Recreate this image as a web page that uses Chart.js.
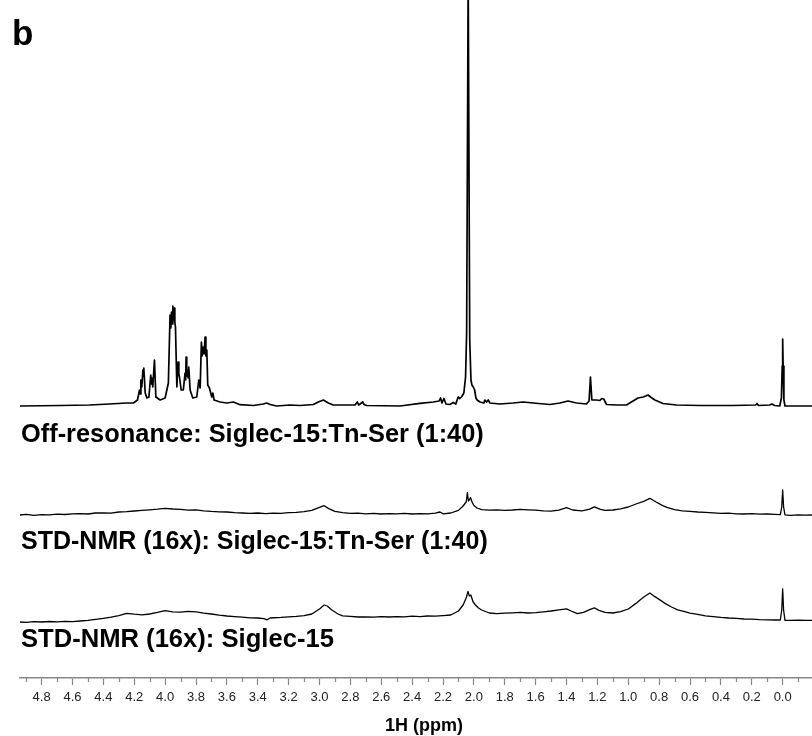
<!DOCTYPE html>
<html>
<head>
<meta charset="utf-8">
<script src="https://cdn.jsdelivr.net/npm/chart.js@4"></script>
<style>
  html, body { margin: 0; padding: 0; background: #fff; }
  canvas { display: block; }
</style>
</head>
<body>
<canvas id="nmr" width="812" height="736"></canvas>
<script>
// chemical shifts (ppm) and intensities, one pair of arrays per trace
const offPpm = [4.94, 4.68, 4.49, 4.36, 4.25, 4.205, 4.179, 4.166, 4.161, 4.157, 4.151, 4.144, 4.141, 4.138, 4.129, 4.118, 4.105,
  4.093, 4.089, 4.086, 4.080, 4.069, 4.060, 4.032, 4.000, 3.979, 3.968, 3.963, 3.959, 3.954, 3.950, 3.946, 3.942, 3.937, 3.933,
  3.924, 3.916, 3.911, 3.907, 3.896, 3.882, 3.871, 3.867, 3.864, 3.860, 3.856, 3.851, 3.847, 3.838, 3.821, 3.795, 3.782,
  3.773, 3.765, 3.760, 3.754, 3.748, 3.741, 3.736, 3.730, 3.724,
  3.713, 3.698, 3.691, 3.683, 3.644, 3.601, 3.558, 3.515, 3.428, 3.364, 3.342, 3.320, 3.277, 3.191, 3.126, 3.040,
  3.008, 2.975, 2.943, 2.911, 2.770, 2.755, 2.746, 2.720, 2.712, 2.694, 2.479, 2.349, 2.263, 2.225, 2.216, 2.207,
  2.194, 2.181, 2.155, 2.134, 2.117, 2.102, 2.091, 2.078, 2.065, 2.054, 2.047, 2.037, 2.027, 2.019, 2.013, 2.004,
  1.995, 1.987, 1.979, 1.961, 1.935, 1.929, 1.918, 1.907, 1.896, 1.832, 1.746, 1.681, 1.616, 1.508, 1.443, 1.390,
  1.335, 1.271, 1.254, 1.245, 1.236, 1.206, 1.184, 1.172, 1.159, 1.141, 1.076, 1.012, 0.969, 0.937, 0.904, 0.887,
  0.872, 0.856, 0.828, 0.775, 0.688, 0.537, 0.322, 0.175, 0.166, 0.157, 0.084, 0.071, 0.052, 0.019, 0.008, 0.003,
  0.000, -0.003, -0.008, -0.015, -0.19];
const offInt = [0, 0.5, 1, 2, 3, 3, 6, 16, 12, 26, 19, 36, 30, 38, 13, 8, 9,
  31, 22, 28, 19, 46, 9, 6, 8, 23, 91, 78, 94, 82, 100, 86, 98, 84, 79,
  19, 44, 32, 29, 16, 16, 33, 26, 49, 30, 36, 28, 39, 16, 8, 9, 26,
  18, 64, 50, 59, 52, 69, 50, 56, 21,
  18, 9, 13, 6, 4, 3, 4, 1.3, 0.5, 2, 3, 1.5, 0, 1, 0.5, 1.5,
  4, 6, 3, 1, 1, 4, 1, 4, 1.5, 0.5, 0, 2.7, 4, 5, 8, 3,
  7.5, 2, 1.5, 3.5, 2, 9, 7.5, 9.5, 13, 29, 73, 430, 66, 26, 21, 19,
  16, 8, 6, 4, 3, 6, 4, 6, 3, 2, 3, 4, 3, 1.5, 3, 5,
  3, 2, 5, 29, 6, 6, 5.5, 7.5, 7, 1.5, 1, 1, 5, 8, 9, 10,
  11, 9, 6, 2.5, 1, 0.5, 0.5, 1, 2.5, 0.5, 1, 2, 0.5, 0, 8, 40,
  67, 40, 6, 0, 0];

const std1Ppm = [4.94, 4.90, 4.85, 4.80, 4.75, 4.70, 4.65, 4.60, 4.55, 4.50, 4.45, 4.40, 4.35, 4.30, 4.25, 4.20,
  4.15, 4.10, 4.05, 4.00, 3.95, 3.90, 3.85, 3.80, 3.75, 3.70, 3.65, 3.60, 3.55, 3.50, 3.45, 3.40, 3.35, 3.30,
  3.25, 3.20, 3.15, 3.10, 3.05, 3.00, 2.97, 2.94, 2.90, 2.85, 2.80, 2.75, 2.70, 2.65, 2.60, 2.55, 2.50, 2.45,
  2.40, 2.35, 2.30, 2.25, 2.22, 2.20, 2.15, 2.10, 2.07, 2.05, 2.042, 2.036, 2.030, 2.022, 2.012, 2.00, 1.98,
  1.95, 1.90, 1.85, 1.80, 1.75, 1.70, 1.65, 1.60, 1.55, 1.50, 1.45, 1.40, 1.36, 1.30, 1.25, 1.22, 1.18, 1.15,
  1.10, 1.05, 1.00, 0.95, 0.90, 0.86, 0.82, 0.78, 0.75, 0.70, 0.65, 0.60, 0.55, 0.50, 0.45, 0.40, 0.35, 0.30,
  0.25, 0.20, 0.15, 0.10, 0.05, 0.015, 0.006, 0.000, -0.006, -0.015, -0.05, -0.10, -0.15, -0.19];
const std1Int = [0.0, 0.6, -0.3, 0.4, 0.2, 0.9, 0.5, 1.2, 1.4, 1.0, 2.0, 2.2, 1.8, 3.0, 3.4, 4.0,
  4.6, 5.2, 5.8, 6.6, 6.0, 5.6, 4.8, 5.2, 4.2, 3.6, 3.2, 3.0, 2.4, 2.0, 1.6, 2.0, 1.4, 1.8,
  1.6, 2.4, 2.6, 3.4, 4.6, 7.6, 9.3, 6.4, 3.6, 2.4, 1.6, 1.8, 1.2, 1.6, 1.0, 1.4, 1.2, 1.6,
  1.0, 1.4, 1.2, 1.8, 3.0, 1.2, 2.0, 4.6, 9.0, 13.0, 22.3, 14.0, 15.0, 17.5, 13.0, 9.5, 7.0,
  5.4, 4.8, 5.2, 4.6, 5.0, 5.6, 5.2, 4.8, 4.2, 3.8, 4.8, 7.4, 5.0, 4.2, 5.8, 8.2, 5.6, 4.6,
  5.0, 6.2, 8.0, 11.0, 13.6, 16.7, 13.0, 9.6, 7.6, 5.4, 4.2, 3.6, 3.0, 2.6, 2.2, 1.6, 1.8, 1.2,
  1.0, 1.4, 0.8, 1.0, 0.6, 0.4, 8, 25, 8, 0.2, -0.4, 0.2, -0.2, 0.0];

const std2Ppm = [4.94, 4.90, 4.85, 4.80, 4.75, 4.70, 4.65, 4.60, 4.55, 4.50, 4.45, 4.40, 4.35, 4.30, 4.25, 4.20,
  4.15, 4.10, 4.05, 4.00, 3.95, 3.90, 3.85, 3.80, 3.75, 3.70, 3.65, 3.60, 3.55, 3.50, 3.45, 3.40, 3.36, 3.34,
  3.32, 3.25, 3.20, 3.15, 3.10, 3.05, 3.00, 2.97, 2.95, 2.92, 2.88, 2.85, 2.80, 2.75, 2.70, 2.65, 2.60, 2.55,
  2.50, 2.45, 2.40, 2.35, 2.30, 2.25, 2.20, 2.15, 2.10, 2.07, 2.05, 2.038, 2.030, 2.020, 2.005, 1.99, 1.97,
  1.95, 1.90, 1.85, 1.80, 1.75, 1.70, 1.65, 1.60, 1.55, 1.50, 1.45, 1.40, 1.37, 1.33, 1.29, 1.25, 1.22, 1.19,
  1.15, 1.10, 1.05, 1.00, 0.95, 0.92, 0.89, 0.86, 0.83, 0.80, 0.76, 0.72, 0.68, 0.64, 0.60, 0.55, 0.50, 0.45,
  0.40, 0.35, 0.30, 0.25, 0.20, 0.15, 0.10, 0.05, 0.015, 0.006, 0.000, -0.006, -0.015, -0.05, -0.10, -0.15, -0.19];
const std2Int = [0.0, -0.4, 0.3, 0.0, 0.5, 0.2, 0.6, 0.4, 1.0, 1.6, 2.6, 3.6, 4.8, 6.4, 8.6, 7.8,
  7.2, 8.0, 9.6, 11.4, 10.2, 9.8, 10.6, 10.2, 8.8, 8.0, 6.8, 6.0, 5.4, 4.8, 4.2, 4.0, 3.4, 2.2,
  4.0, 4.6, 5.2, 5.6, 6.4, 8.0, 13.0, 17.0, 16.0, 12.0, 8.0, 6.2, 5.6, 5.0, 5.2, 4.8, 5.4, 5.0,
  5.4, 5.2, 5.8, 5.4, 6.0, 5.8, 6.4, 7.0, 11.0, 17.0, 24.0, 30.7, 26.0, 27.0, 20.0, 17.0, 14.0,
  12.0, 9.0, 8.4, 8.8, 9.2, 9.6, 9.0, 9.4, 10.2, 11.0, 12.2, 13.2, 11.0, 8.4, 9.6, 12.4, 14.2, 11.6,
  9.6, 9.0, 10.4, 13.0, 18.6, 22.6, 26.0, 29.0, 25.6, 22.6, 18.4, 15.0, 12.2, 10.6, 8.8, 7.6, 6.2, 5.4,
  4.6, 4.0, 3.6, 3.0, 2.8, 2.4, 2.2, 2.0, 2.0, 12, 33, 12, 1.6, 1.6, 1.8, 1.6, 1.6];

const traceLabels = ['Off-resonance: Siglec-15:Tn-Ser (1:40)',
                     'STD-NMR (16x): Siglec-15:Tn-Ser (1:40)',
                     'STD-NMR (16x): Siglec-15'];
const panelLetter = 'b';
const axisTitle = '1H (ppm)';

// vertical stacking of the three spectra (in intensity units) and where their captions sit
const traceOffsets = [272, 163, 56];
const labelBaselines = [442, 549, 647];
const labelSizes = [25.4, 25.0, 25.6];

function toPoints(ppm, vals, offset) {
  return ppm.map((p, i) => ({ x: p, y: vals[i] + offset }));
}

const isMajor = v => {
  const t = Math.round(v * 10);
  return t % 2 === 0 && t >= 0 && t <= 48;
};

// white background, captions, axis title and minor ticks
const extras = {
  id: 'extras',
  beforeDraw(chart) {
    const c = chart.ctx;
    c.save();
    c.fillStyle = '#fff';
    c.fillRect(0, 0, chart.width, chart.height);
    c.restore();
  },
  afterDraw(chart) {
    const c = chart.ctx;
    const xs = chart.scales.x;
    const yAxis = chart.chartArea.bottom;
    c.save();
    // minor ticks every 0.1 ppm
    c.strokeStyle = '#888';
    c.lineWidth = 1.2;
    for (let t = -1; t <= 49; t += 2) {
      const px = Math.round(xs.getPixelForValue(t / 10)) + 0.5;
      c.beginPath();
      c.moveTo(px, yAxis);
      c.lineTo(px, yAxis + 4);
      c.stroke();
    }
    c.fillStyle = '#000';
    c.textBaseline = 'alphabetic';
    traceLabels.forEach((txt, i) => {
      c.font = 'bold ' + labelSizes[i] + 'px "Liberation Sans", Arial, sans-serif';
      c.fillText(txt, 21, labelBaselines[i]);
    });
    c.font = 'bold 35px "Liberation Sans", Arial, sans-serif';
    c.fillText(panelLetter, 12, 45);
    c.font = 'bold 18px "Liberation Sans", Arial, sans-serif';
    c.textAlign = 'center';
    c.fillText(axisTitle, 424, 731);
    c.restore();
  }
};

const ctx = document.getElementById('nmr').getContext('2d');
const lineStyle = { borderColor: '#000', pointRadius: 0, tension: 0, fill: false, borderJoinStyle: 'round' };

new Chart(ctx, {
  type: 'line',
  data: {
    datasets: [
      Object.assign({ label: traceLabels[0], data: toPoints(offPpm, offInt, traceOffsets[0]), borderWidth: 1.7 }, lineStyle),
      Object.assign({ label: traceLabels[1], data: toPoints(std1Ppm, std1Int, traceOffsets[1]), borderWidth: 1.3 }, lineStyle),
      Object.assign({ label: traceLabels[2], data: toPoints(std2Ppm, std2Int, traceOffsets[2]), borderWidth: 1.3 }, lineStyle)
    ]
  },
  options: {
    responsive: false,
    animation: false,
    devicePixelRatio: 1,
    layout: { padding: { left: 20, right: 0, top: 0, bottom: 0 } },
    plugins: { legend: { display: false }, tooltip: { enabled: false } },
    scales: {
      x: {
        type: 'linear',
        reverse: true,
        min: -0.19,
        max: 4.94,
        afterFit: s => { s.height = 58; },
        border: { color: '#888', width: 1.5 },
        grid: {
          drawOnChartArea: false,
          drawTicks: true,
          tickLength: 7,
          tickWidth: 1.2,
          tickColor: c => (c.tick && isMajor(c.tick.value)) ? '#888' : 'rgba(0,0,0,0)'
        },
        ticks: {
          stepSize: 0.1,
          includeBounds: false,
          autoSkip: false,
          maxRotation: 0,
          padding: 5,
          color: '#222',
          font: { family: '"Liberation Sans", Arial, sans-serif', size: 13 },
          callback: v => isMajor(v) ? (Math.round(v * 10) / 10).toFixed(1) : ''
        },
        title: { display: false }
      },
      y: { display: false, min: 0, max: 678 }
    }
  },
  plugins: [extras]
});
</script>
</body>
</html>
